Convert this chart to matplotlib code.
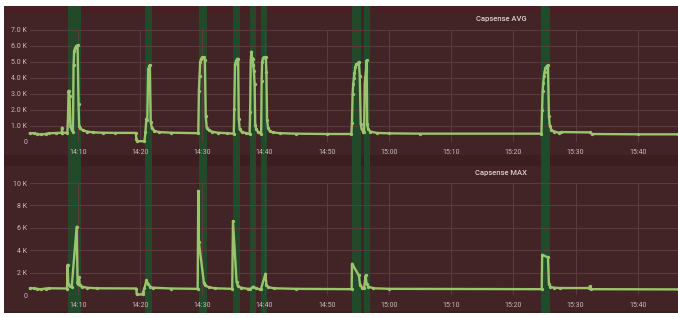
import matplotlib
matplotlib.use("Agg")
import matplotlib.pyplot as plt
from matplotlib.patches import Rectangle
from matplotlib.transforms import blended_transform_factory

plt.rcParams['font.family'] = ['Roboto', 'DejaVu Sans']

# time in minutes after 14:00
avg_t = [2.3, 3.0, 3.5, 4.0, 4.8, 5.3, 6.5, 7.4, 7.45, 7.5, 8.3, 8.4, 8.5, 8.65, 8.8, 9.0, 9.2,
         9.3, 9.4, 9.55, 9.75, 9.95, 10.1, 10.2, 10.4, 10.8, 11.5, 12.5, 14.0, 16.0, 19.3,
         19.4, 19.5, 20.7, 20.85, 21.0, 21.15, 21.3, 21.55, 21.7, 21.9, 22.3, 23.0, 25.0,
         29.35, 29.45, 29.55, 29.65, 29.8, 30.0, 30.2, 30.4, 30.55, 30.7, 31.0, 31.5, 32.5,
         34.0, 35.05, 35.13, 35.25, 35.4, 35.6, 35.75, 35.85, 36.0, 36.3, 37.0, 37.6,
         37.68, 37.78, 37.88, 37.98, 38.08, 38.18, 38.28, 38.4, 38.5, 38.65, 39.0, 39.45,
         39.53, 39.6, 39.75, 39.95, 40.2, 40.3, 40.4, 40.55, 40.8, 41.3, 42.5, 45.0, 50.0,
         53.95, 54.05, 54.15, 54.25, 54.35, 54.45, 54.6, 54.75, 54.95, 55.15, 55.3, 55.45,
         55.6, 55.85, 56.0, 56.1, 56.2, 56.3, 56.4, 56.5, 56.65, 57.0, 58.0, 60.0, 65.0,
         84.5, 84.6, 84.7, 84.8, 84.9, 85.0, 85.15, 85.35, 85.55, 85.7, 85.85, 86.1, 86.6,
         87.3, 87.6, 92.3, 92.6, 100.0, 106.4]
avg_v = [0.55, 0.55, 0.5, 0.47, 0.5, 0.55, 0.56, 0.58, 0.9, 0.58, 0.57, 1.4, 3.2, 2.9, 1.0, 0.75, 0.65,
         4.8, 5.7, 5.85, 6.0, 6.05, 2.35, 1.0, 0.85, 0.72, 0.65, 0.6, 0.58, 0.57, 0.57,
         0.2, 0.05, 0.05, 0.6, 1.45, 1.4, 4.55, 4.8, 1.25, 0.85, 0.7, 0.62, 0.58,
         0.55, 3.2, 4.15, 5.0, 5.2, 5.3, 5.3, 5.1, 1.6, 0.9, 0.75, 0.65, 0.58,
         0.55, 0.52, 2.05, 4.85, 5.05, 5.2, 5.2, 1.45, 0.8, 0.65, 0.55, 0.5,
         1.9, 5.1, 5.65, 5.25, 5.2, 4.8, 4.45, 3.6, 1.05, 0.8, 0.6, 0.52,
         3.8, 5.0, 5.25, 5.3, 5.3, 4.35, 1.4, 0.9, 0.7, 0.6, 0.55, 0.52, 0.5,
         0.5, 1.2, 3.0, 3.6, 4.0, 4.3, 4.7, 4.85, 4.9, 5.0, 4.15, 1.15,
         0.8, 0.65, 0.62, 3.65, 4.05, 4.45, 5.1, 1.1, 0.8, 0.65, 0.57, 0.54, 0.52,
         0.52, 2.0, 3.2, 3.7, 4.1, 4.4, 4.6, 4.75, 4.8, 1.6, 1.0, 0.75, 0.65,
         0.58, 0.62, 0.6, 0.5, 0.48, 0.48]

max_t = [2.3, 3.0, 3.5, 4.0, 4.8, 5.3, 8.25, 8.35, 8.45, 8.7, 9.0, 9.8, 9.95, 10.15, 10.3, 10.6,
         11.5, 13.0, 19.4, 19.45, 20.4, 20.5, 20.7, 21.0, 21.3, 21.6, 22.0, 25.0,
         29.25, 29.35, 29.45, 30.25, 30.5, 31.0, 32.0, 34.8, 34.92, 35.5, 35.7, 36.2, 37.3,
         37.7, 38.2, 38.6, 39.3, 39.4, 40.15, 40.3, 40.6, 41.5, 45.0, 54.0, 54.05, 55.15,
         55.35, 55.7, 56.0, 56.25, 56.4, 56.7, 57.5, 60.0, 84.55, 84.62, 85.55, 85.7, 85.9,
         86.5, 87.5, 92.2, 92.3, 92.5, 106.4]
max_v = [0.6, 0.6, 0.55, 0.5, 0.58, 0.6, 0.58, 2.7, 1.0, 0.8, 0.7, 6.1, 1.0, 1.6, 0.9, 0.75,
         0.65, 0.6, 0.58, 0.05, 0.05, 0.3, 0.6, 1.3, 1.0, 0.75, 0.65, 0.58,
         0.55, 9.3, 4.7, 1.1, 0.85, 0.7, 0.6, 0.55, 6.6, 1.2, 0.8, 0.65, 0.55,
         0.55, 0.75, 0.6, 0.5, 0.5, 1.9, 0.9, 0.7, 0.6, 0.55, 0.52, 2.8, 1.75,
         0.9, 0.65, 0.6, 1.75, 1.0, 0.75, 0.6, 0.55, 0.52, 3.6, 3.35, 1.0, 0.75,
         0.65, 0.62, 0.62, 0.78, 0.52, 0.5]

band_start = [8.4, 20.8, 29.45, 34.9, 37.65, 39.4, 54.05, 56.0, 84.4]
band_end = [10.5, 21.9, 30.7, 36.0, 38.6, 40.4, 55.5, 56.9, 85.9]

x_ticks = [10, 20, 30, 40, 50, 60, 70, 80, 90, 100]
x_labels = ['14:10', '14:20', '14:30', '14:40', '14:50', '15:00', '15:10', '15:20', '15:30', '15:40']
avg_yticks = [0, 1, 2, 3, 4, 5, 6, 7]
avg_ylabels = ['0', '1.0 K', '2.0 K', '3.0 K', '4.0 K', '5.0 K', '6.0 K', '7.0 K']
max_yticks = [0, 2, 4, 6, 8, 10]
max_ylabels = ['0', '2 K', '4 K', '6 K', '8 K', '10 K']

W, H = 678, 318
fig = plt.figure(figsize=(W / 100, H / 100), dpi=100)
fig.patch.set_facecolor('white')

def frect(x0, y0, x1, y1, color, z=-5):
    # pixel coords from top-left
    fig.patches.append(Rectangle((x0 / W, 1 - y1 / H), (x1 - x0) / W, (y1 - y0) / H,
                                 transform=fig.transFigure, facecolor=color,
                                 edgecolor='none', zorder=z))

frect(4, 6, 678, 313, '#3c1e20')
frect(4, 6, 678, 12, '#4a1e23', -4)
frect(4, 12, 678, 155, '#432426', -4)
frect(4, 166, 678, 311, '#432426', -4)

line_color = '#9cc46e'
grid_color = '#5c3c43'
text_color = '#c9b9bb'

x_min, x_max = 2.3, 106.45

def setup(ax, yticks, ylabels, ymax):
    ax.set_facecolor('none')
    ax.set_xlim(x_min, x_max)
    ax.set_ylim(0, ymax)
    ax.set_xticks(x_ticks)
    ax.set_xticklabels(x_labels)
    ax.set_yticks(yticks)
    ax.set_yticklabels(ylabels)
    for s in ax.spines.values():
        s.set_visible(False)
    ax.tick_params(length=0, colors=text_color, labelsize=5)
    ax.tick_params(axis='x', pad=5)
    ax.tick_params(axis='y', pad=2)
    ax.grid(True, color=grid_color, linewidth=0.7)
    ax.set_axisbelow(True)

ax1 = fig.add_axes([30 / W, 1 - 142 / H, 648 / W, 112 / H])
ax2 = fig.add_axes([30 / W, 1 - 295 / H, 648 / W, 112 / H])
setup(ax1, avg_yticks, avg_ylabels, 7)
setup(ax2, max_yticks, max_ylabels, 10)

tr = blended_transform_factory(ax1.transData, fig.transFigure)
for s, e in zip(band_start, band_end):
    ax1.add_patch(Rectangle((s, 1 - 313 / H), e - s, 307 / H, transform=tr,
                            facecolor='#21492a', edgecolor='none', clip_on=False, zorder=0.5))

for ax, t, v in ((ax1, avg_t, avg_v), (ax2, max_t, max_v)):
    ax.plot(t, v, color=line_color, linewidth=1.7, marker='o', markersize=2.4,
            markeredgewidth=0, zorder=3, clip_on=False)

fig.text(501 / W, 1 - 19 / H, 'Capsense AVG', color='#ddd0d0', fontsize=5.5,
         ha='center', va='center', fontweight='medium')
fig.text(501 / W, 1 - 173 / H, 'Capsense MAX', color='#ddd0d0', fontsize=5.5,
         ha='center', va='center', fontweight='medium')

fig.savefig('out.png', dpi=100)
